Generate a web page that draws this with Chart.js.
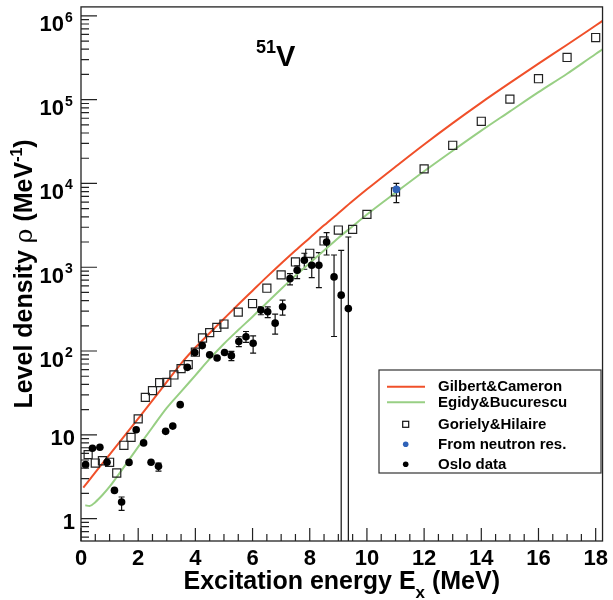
<!DOCTYPE html>
<html>
<head>
<meta charset="utf-8">
<script src="https://cdn.jsdelivr.net/npm/chart.js@4.4.0/dist/chart.umd.min.js"></script>
<style>
html, body { margin: 0; padding: 0; background: #fff; }
</style>
</head>
<body>
<canvas id="levels" width="613" height="600"></canvas>
<script>
// Gilbert&Cameron curve
const gcE   = [0.08, 0.5, 1, 1.5, 2, 2.5, 3, 3.5, 4, 4.5, 5, 5.5, 6, 6.5, 7, 7.5, 8, 8.5, 9, 9.5, 10, 11, 12, 13, 14, 15, 16, 17, 18, 18.24]
const gcRho = [2.34, 3.55, 5.8, 9.5, 15.6, 25.7, 42.7, 70.8, 110, 164, 243, 359, 525, 767, 1109, 1585, 2239, 3162, 4416, 6166, 8511, 15850, 29200, 52500, 92300, 158500, 269000, 452000, 767000, 871000]

// Egidy&Bucurescu curve
const ebE   = [0.15, 0.3, 0.5, 0.75, 1, 1.5, 2, 2.5, 3, 3.5, 4, 4.5, 5, 5.5, 6, 6.5, 7, 7.5, 8, 8.5, 9, 9.5, 10, 11, 12, 13, 14, 15, 16, 17, 18, 18.24]
const ebRho = [1.44, 1.41, 1.57, 1.91, 2.4, 4.12, 7.16, 12.3, 20.9, 32.7, 51.3, 80.4, 122, 178, 257, 376, 550, 794, 1122, 1585, 2239, 3090, 4266, 7762, 13960, 24550, 42660, 72440, 123000, 204000, 351000, 398000]

// Goriely&Hilaire
const gorE   = [0.25, 0.5, 0.75, 1, 1.25, 1.5, 1.75, 2, 2.25, 2.5, 2.75, 3, 3.25, 3.5, 3.75, 4, 4.25, 4.5, 4.75, 5, 5.5, 6, 6.5, 7, 7.5, 8, 8.5, 9, 9.5, 10, 11, 12, 13, 14, 15, 16, 17, 18]
const gorRho = [5.8, 4.6, 4.9, 4.7, 3.5, 7.5, 9.3, 15.5, 28, 33.7, 42, 42.3, 51.8, 61.6, 68.7, 96.8, 143, 166, 191, 210, 291, 369, 562, 809, 1156, 1468, 2057, 2780, 2832, 4276, 7943, 14920, 28560, 55200, 101600, 177800, 318900, 551800]

// From neutron resonances
const nE = [11.03]
const nRho = [8490]
const nLo = [5900]
const nHi = [10000]

// Oslo data
const osE   = [0.16, 0.40, 0.66, 0.91, 1.17, 1.42, 1.68, 1.93, 2.19, 2.45, 2.71, 2.96, 3.21, 3.47, 3.72, 3.98, 4.24, 4.50, 4.76, 5.02, 5.26, 5.52, 5.77, 6.02, 6.29, 6.53, 6.79, 7.05, 7.31, 7.56, 7.81, 8.07, 8.32, 8.59, 8.85, 9.10, 9.35]
const osRho = [4.4, 6.9, 7.1, 4.7, 2.17, 1.58, 4.68, 11.5, 8.0, 4.7, 4.2, 11.0, 12.7, 22.9, 63.8, 96, 116, 90, 82.6, 96, 88, 130, 148, 124, 308, 294, 215, 337, 731, 921, 1211, 1056, 1056, 2000, 767, 464, 321]
const osLo  = [null, null, null, null, null, 1.25, null, null, null, null, 3.69, null, null, null, null, null, null, null, null, null, 76.7, 113, 127, 94.6, 271, 250, 159, 268, 615, 731, 946, 752, 571, 1400, 149, 0.1, 0.1]
const osHi  = [null, null, null, null, null, 1.81, null, null, null, null, 4.59, null, null, null, null, null, null, null, null, null, 98.9, 148, 171, 152, 337, 337, 276, 405, 839, 1036, 1468, 1300, 1493, 2582, 1400, 1592, 2296]

const xTickLabels = [0, 2, 4, 6, 8, 10, 12, 14, 16, 18]
const yDecades = [0, 1, 2, 3, 4, 5, 6]

const FONT = 'Liberation Sans, Arial, Helvetica, sans-serif'
const RED = '#f0502a'
const GREEN = '#98cf84'
const BLUE = '#2f62b8'

function pts(xs, ys) {
    return xs.map((x, i) => ({x: x, y: ys[i]}))
}

function drawBars(ctx, xs, lo, hi, sx, sy, color) {
    ctx.strokeStyle = color
    ctx.lineWidth = 1.2
    for (let i = 0; i < xs.length; i++) {
        if (lo[i] == null) continue
        const px = sx.getPixelForValue(xs[i])
        const y1 = sy.getPixelForValue(lo[i])
        const y2 = sy.getPixelForValue(hi[i])
        ctx.beginPath()
        ctx.moveTo(px, y1); ctx.lineTo(px, y2)
        ctx.moveTo(px - 3, y1); ctx.lineTo(px + 3, y1)
        ctx.moveTo(px - 3, y2); ctx.lineTo(px + 3, y2)
        ctx.stroke()
    }
}

const rootLook = {
    id: 'rootLook',
    beforeDatasetsDraw(chart) {
        const ctx = chart.ctx, a = chart.chartArea
        const sx = chart.scales.x, sy = chart.scales.y
        ctx.save()
        ctx.beginPath()
        ctx.rect(a.left, a.top, a.right - a.left, a.bottom - a.top)
        ctx.clip()
        drawBars(ctx, osE, osLo, osHi, sx, sy, '#111')
        drawBars(ctx, nE, nLo, nHi, sx, sy, '#111')
        ctx.restore()
    },
    afterDraw(chart) {
        const ctx = chart.ctx, a = chart.chartArea
        const sx = chart.scales.x, sy = chart.scales.y
        ctx.save()
        // frame
        ctx.strokeStyle = '#222'
        ctx.lineWidth = 1.3
        ctx.strokeRect(a.left, a.top, a.right - a.left, a.bottom - a.top)

        // x ticks, inside
        ctx.lineWidth = 1.2
        ctx.beginPath()
        for (let k = 0; k <= 36; k++) {
            const px = sx.getPixelForValue(k * 0.5)
            const len = (k % 4 === 0) ? 13 : 7
            ctx.moveTo(px, a.bottom); ctx.lineTo(px, a.bottom - len)
        }
        ctx.stroke()

        // y ticks, inside
        ctx.beginPath()
        for (let d = -1; d <= 6; d++) {
            for (let m = 1; m <= 9; m++) {
                const v = m * Math.pow(10, d)
                if (v < sy.min || v > sy.max) continue
                const py = sy.getPixelForValue(v)
                const len = (m === 1) ? 16 : 8
                ctx.moveTo(a.left, py); ctx.lineTo(a.left + len, py)
            }
        }
        ctx.stroke()

        // y labels
        ctx.fillStyle = '#000'
        ctx.textBaseline = 'alphabetic'
        for (const d of yDecades) {
            const py = sy.getPixelForValue(Math.pow(10, d))
            if (d < 2) {
                ctx.font = 'bold 22px ' + FONT
                ctx.textAlign = 'right'
                ctx.fillText(d === 0 ? '1' : '10', 75, py + 10.5)
            } else {
                ctx.font = 'bold 22px ' + FONT
                ctx.textAlign = 'right'
                ctx.fillText('10', 64, py + 15.5)
                ctx.font = 'bold 14px ' + FONT
                ctx.textAlign = 'left'
                ctx.fillText(String(d), 65, py + 6)
            }
        }

        // x title
        const xt = [
            {t: 'Excitation energy E', f: 'bold 25px ' + FONT, dy: 0},
            {t: 'x', f: 'bold 17px ' + FONT, dy: 9},
            {t: ' (MeV)', f: 'bold 25px ' + FONT, dy: 0}
        ]
        drawRich(ctx, xt, (a.left + a.right) / 2, 589)

        // y title, rotated
        ctx.save()
        ctx.translate(32, (a.top + a.bottom) / 2)
        ctx.rotate(-Math.PI / 2)
        const yt = [
            {t: 'Level density ', f: 'bold 25px ' + FONT, dy: 0},
            {t: '\u03c1', f: '25px DejaVu Serif, serif', dy: 0},
            {t: ' (MeV', f: 'bold 25px ' + FONT, dy: 0},
            {t: '-1', f: 'bold 16px ' + FONT, dy: -10},
            {t: ')', f: 'bold 25px ' + FONT, dy: 0}
        ]
        drawRich(ctx, yt, 0, 0)
        ctx.restore()

        // nucleus label
        ctx.textAlign = 'left'
        ctx.font = 'bold 18px ' + FONT
        ctx.fillText('51', 256, 52.7)
        ctx.font = 'bold 29px ' + FONT
        ctx.fillText('V', 276, 66)

        // legend
        const lx = 379, ly = 370, lw = 222, lh = 103
        ctx.fillStyle = '#fff'
        ctx.fillRect(lx, ly, lw, lh)
        ctx.strokeStyle = '#333'
        ctx.lineWidth = 1.2
        ctx.strokeRect(lx, ly, lw, lh)
        const rows = [386.7, 402.3, 424.3, 444.3, 464.3]
        const names = ['Gilbert&Cameron', 'Egidy&Bucurescu', 'Goriely&Hilaire', 'From neutron res.', 'Oslo data']
        ctx.lineWidth = 2
        ctx.strokeStyle = RED
        ctx.beginPath(); ctx.moveTo(387, rows[0]); ctx.lineTo(425, rows[0]); ctx.stroke()
        ctx.strokeStyle = GREEN
        ctx.beginPath(); ctx.moveTo(387, rows[1]); ctx.lineTo(425, rows[1]); ctx.stroke()
        ctx.strokeStyle = '#111'
        ctx.lineWidth = 1.2
        ctx.strokeRect(402.7, rows[2] - 3, 6, 6)
        ctx.fillStyle = BLUE
        ctx.beginPath(); ctx.arc(405.7, rows[3], 2.8, 0, Math.PI * 2); ctx.fill()
        ctx.fillStyle = '#000'
        ctx.beginPath(); ctx.arc(405.7, rows[4], 2.8, 0, Math.PI * 2); ctx.fill()
        ctx.font = 'bold 15px ' + FONT
        ctx.textAlign = 'left'
        ctx.textBaseline = 'middle'
        names.forEach((n, i) => ctx.fillText(n, 438, rows[i] + 0.5))
        ctx.restore()
    }
}

function drawRich(ctx, parts, cx, base) {
    let w = 0
    for (const p of parts) { ctx.font = p.f; w += ctx.measureText(p.t).width }
    let x = cx - w / 2
    ctx.textAlign = 'left'
    ctx.textBaseline = 'alphabetic'
    ctx.fillStyle = '#000'
    for (const p of parts) {
        ctx.font = p.f
        ctx.fillText(p.t, x, base + p.dy)
        x += ctx.measureText(p.t).width
    }
}

const config = {
    type: 'scatter',
    data: {
        datasets: [
            {
                label: 'Gilbert&Cameron',
                data: pts(gcE, gcRho),
                showLine: true,
                borderColor: RED,
                borderWidth: 2,
                pointRadius: 0,
                cubicInterpolationMode: 'monotone',
                order: 5
            },
            {
                label: 'Egidy&Bucurescu',
                data: pts(ebE, ebRho),
                showLine: true,
                borderColor: GREEN,
                borderWidth: 2,
                pointRadius: 0,
                cubicInterpolationMode: 'monotone',
                order: 4
            },
            {
                label: 'Goriely&Hilaire',
                data: pts(gorE, gorRho),
                pointStyle: 'rect',
                pointRadius: 5.7,
                borderColor: '#222',
                borderWidth: 1.2,
                backgroundColor: 'rgba(0,0,0,0)',
                order: 3
            },
            {
                label: 'Oslo data',
                data: pts(osE, osRho),
                pointStyle: 'circle',
                pointRadius: 3.8,
                borderWidth: 0,
                backgroundColor: '#000',
                order: 2
            },
            {
                label: 'From neutron res.',
                data: pts(nE, nRho),
                pointStyle: 'circle',
                pointRadius: 3.8,
                borderWidth: 0,
                backgroundColor: BLUE,
                order: 1
            }
        ]
    },
    options: {
        responsive: false,
        animation: false,
        devicePixelRatio: 1,
        layout: { padding: { top: 4, right: 6, left: 0, bottom: 0 } },
        plugins: { legend: { display: false }, tooltip: { enabled: false } },
        scales: {
            x: {
                type: 'linear',
                min: 0,
                max: 18.24,
                afterFit(s) { s.height = 59 },
                grid: { display: false, drawTicks: false },
                border: { display: false },
                ticks: {
                    stepSize: 2,
                    includeBounds: false,
                    autoSkip: false,
                    maxRotation: 0,
                    padding: 5,
                    color: '#000',
                    font: { family: FONT, weight: 'bold', size: 22 },
                    callback: v => xTickLabels.includes(v) ? String(v) : ''
                }
            },
            y: {
                type: 'logarithmic',
                min: 0.54,
                max: 1.28e6,
                afterFit(s) { s.width = 81 },
                grid: { display: false },
                border: { display: false },
                ticks: { display: false }
            }
        }
    },
    plugins: [rootLook]
}

const levelChart = new Chart(document.getElementById('levels'), config)
</script>
</body>
</html>
